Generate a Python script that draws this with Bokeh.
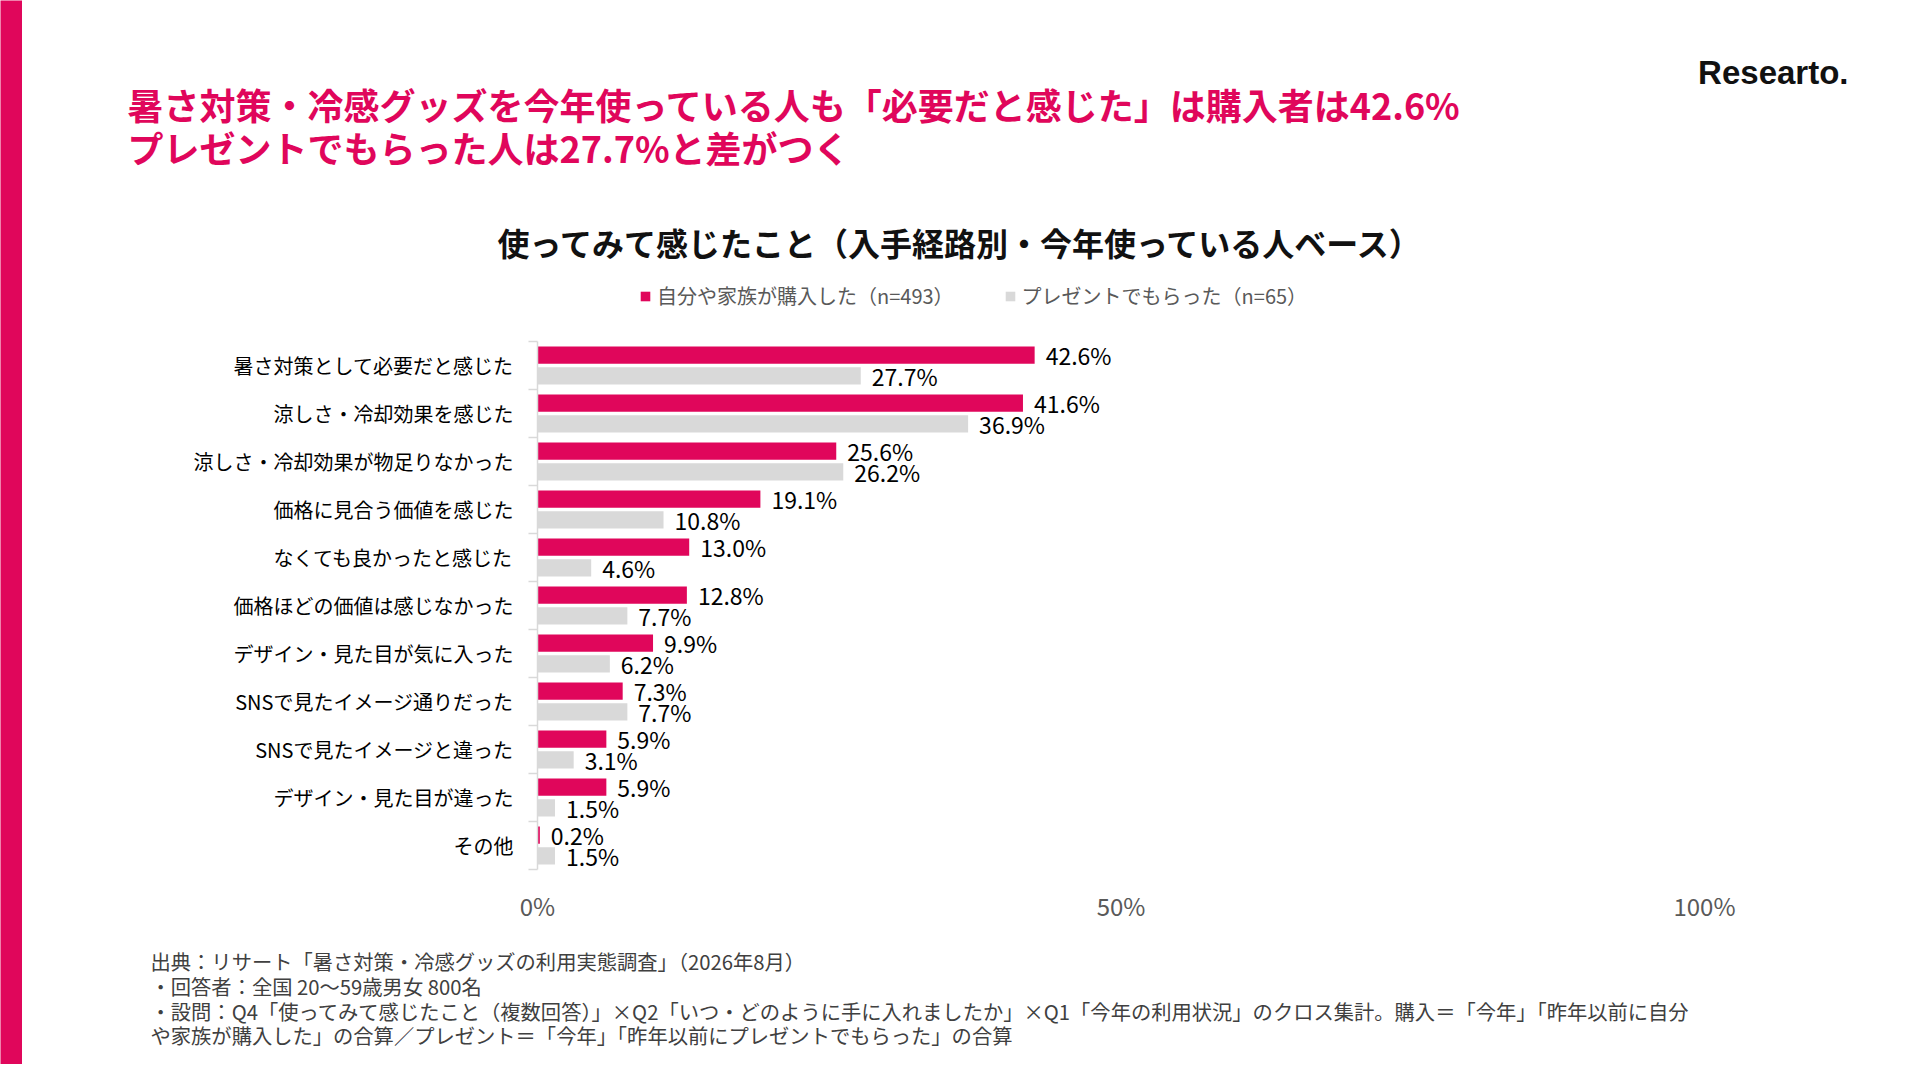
from bokeh.plotting import figure
from bokeh.models import (ColumnDataSource, Range1d, FixedTicker, PrintfTickFormatter,
                          Label, Legend, LegendItem)
from bokeh.layouts import row, column
from bokeh.transform import dodge
from bokeh.core.properties import value
from bokeh.embed import file_html
from bokeh.resources import INLINE

# データ
categories = [
    "暑さ対策として必要だと感じた",
    "涼しさ・冷却効果を感じた",
    "涼しさ・冷却効果が物足りなかった",
    "価格に見合う価値を感じた",
    "なくても良かったと感じた",
    "価格ほどの価値は感じなかった",
    "デザイン・見た目が気に入った",
    "SNSで見たイメージ通りだった",
    "SNSで見たイメージと違った",
    "デザイン・見た目が違った",
    "その他",
]
purchased = [42.6, 41.6, 25.6, 19.1, 13.0, 12.8, 9.9, 7.3, 5.9, 5.9, 0.2]
gift = [27.7, 36.9, 26.2, 10.8, 4.6, 7.7, 6.2, 7.7, 3.1, 1.5, 1.5]
series_names = ["自分や家族が購入した（n=493）", "プレゼントでもらった（n=65）"]
x_ticks = [0, 50, 100]

title_lines = ["暑さ対策・冷感グッズを今年使っている人も「必要だと感じた」は購入者は42.6%",
               "プレゼントでもらった人は27.7%と差がつく"]
chart_title = "使ってみて感じたこと（入手経路別・今年使っている人ベース）"
notes = [
    "出典：リサート「暑さ対策・冷感グッズの利用実態調査」（2026年8月）",
    "・回答者：全国 20〜59歳男女 800名",
    "・設問：Q4「使ってみて感じたこと（複数回答）」×Q2「いつ・どのように手に入れましたか」×Q1「今年の利用状況」のクロス集計。購入＝「今年」「昨年以前に自分",
    "や家族が購入した」の合算／プレゼント＝「今年」「昨年以前にプレゼントでもらった」の合算",
]

PINK = "#E0065B"
GRAY = "#D9D9D9"
FONT = "Noto Sans CJK JP"

W, H = 1904, 1064
STRIP = 22
CW = W - STRIP          # 右側の幅
HEAD_H = 320            # ヘッダー部分
CHART_H = 625           # グラフ部分
FOOT_H = H - HEAD_H - CHART_H
FRAME_TOP, FRAME_BOTTOM = 341, 869
FRAME_LEFT, FRAME_RIGHT = 537, 1704


def blank(w, h, fill="white"):
    f = figure(width=w, height=h, x_range=Range1d(0, w), y_range=Range1d(h, 0),
               x_axis_type=None, y_axis_type=None, min_border=0, title=None,
               toolbar_location=None, output_backend="svg", frame_align=False)
    f.outline_line_color = None
    f.background_fill_color = fill
    f.border_fill_color = fill
    return f


# 左端の帯
strip = blank(STRIP, H, PINK)

# ヘッダー
head = blank(CW, HEAD_H)
for line, y in zip(title_lines, [103, 146]):
    head.add_layout(Label(x=127 - STRIP, y=y, text=line, text_font=FONT, text_font_style="bold",
                          text_font_size="36px", text_color=PINK, text_baseline="middle"))
head.add_layout(Label(x=961 - STRIP, y=241, text=chart_title, text_font=FONT,
                      text_font_style="bold", text_font_size="32px", text_color="#111111",
                      text_align="center", text_baseline="middle"))
head.add_layout(Label(x=1848 - STRIP, y=72, text="Researto.", text_font="Liberation Sans",
                      text_font_style="bold", text_font_size="33px", text_color="#111111",
                      text_align="right", text_baseline="middle"))

# 凡例 (見えない位置に点を置き、凡例の記号だけを使う)
r1 = head.scatter(x=[-1000], y=[-1000], marker="square", size=10, color=PINK, line_color=None)
r2 = head.scatter(x=[-1000], y=[-1000], marker="square", size=10, color=GRAY, line_color=None)
legend = Legend(items=[LegendItem(label=series_names[0], renderers=[r1]),
                       LegendItem(label=series_names[1], renderers=[r2])],
                location=(633 - STRIP, HEAD_H - 298 - 12), orientation="horizontal",
                glyph_width=24, glyph_height=24, label_height=24, label_standoff=0, spacing=44,
                padding=0, margin=0, border_line_color=None, background_fill_alpha=0,
                label_text_font=FONT, label_text_font_size="20px", label_text_color="#595959")
head.add_layout(legend)

# グラフ本体
idx = list(range(len(categories)))
source = ColumnDataSource(data=dict(
    idx=idx,
    purchased=purchased,
    gift=gift,
    purchased_lbl=[f"{v:.1f}%" for v in purchased],
    gift_lbl=[f"{v:.1f}%" for v in gift],
))

p = figure(width=CW, height=CHART_H, output_backend="svg", toolbar_location=None, title=None,
           x_range=Range1d(0, 100), y_range=Range1d(len(categories) - 0.5, -0.5),
           min_border_left=FRAME_LEFT - STRIP, min_border_right=CW - (FRAME_RIGHT - STRIP),
           min_border_top=FRAME_TOP - HEAD_H,
           min_border_bottom=HEAD_H + CHART_H - FRAME_BOTTOM, frame_align=False)
p.outline_line_color = None
p.xgrid.visible = False
p.ygrid.visible = False

p.hbar(y=dodge("idx", -0.215, range=p.y_range), right="purchased", left=0, height=0.36,
       source=source, color=PINK, line_color=None)
p.hbar(y=dodge("idx", 0.215, range=p.y_range), right="gift", left=0, height=0.36,
       source=source, color=GRAY, line_color=None)

p.text(x="purchased", y=dodge("idx", -0.215, range=p.y_range), text="purchased_lbl", source=source,
       x_offset=11, text_baseline="middle", text_font=value(FONT), text_font_size="23px",
       text_color="#000000")
p.text(x="gift", y=dodge("idx", 0.215, range=p.y_range), text="gift_lbl", source=source,
       x_offset=11, text_baseline="middle", text_font=value(FONT), text_font_size="23px",
       text_color="#000000")

p.xaxis.ticker = FixedTicker(ticks=x_ticks)
p.xaxis.formatter = PrintfTickFormatter(format="%d%%")
p.xaxis.axis_line_color = None
p.xaxis.major_tick_line_color = None
p.xaxis.minor_tick_line_color = None
p.xaxis.major_tick_out = 0
p.xaxis.major_label_standoff = 18
p.xaxis.major_label_text_font = FONT
p.xaxis.major_label_text_font_size = "24px"
p.xaxis.major_label_text_color = "#595959"

p.yaxis.ticker = FixedTicker(ticks=idx, minor_ticks=[i - 0.5 for i in range(len(categories) + 1)])
p.yaxis.major_label_overrides = {i: c for i, c in zip(idx, categories)}
p.yaxis.axis_line_color = GRAY
p.yaxis.axis_line_width = 1.5
p.yaxis.major_tick_line_color = None
p.yaxis.major_tick_out = 0
p.yaxis.major_tick_in = 0
p.yaxis.minor_tick_line_color = GRAY
p.yaxis.minor_tick_line_width = 1.5
p.yaxis.minor_tick_out = 9
p.yaxis.minor_tick_in = 0
p.yaxis.major_label_standoff = 15
p.yaxis.major_label_text_font = FONT
p.yaxis.major_label_text_font_size = "20px"
p.yaxis.major_label_text_color = "#000000"

# 出典
foot = blank(CW, FOOT_H)
for line, y in zip(notes, [960, 985, 1010, 1034]):
    foot.add_layout(Label(x=150 - STRIP, y=y - HEAD_H - CHART_H, text=line, text_font=FONT,
                          text_font_size="20.3px", text_color="#404040", text_baseline="middle"))

layout = row(strip, column(head, p, foot, spacing=0), spacing=0)

open("out.html", "w").write(file_html(layout, INLINE))
